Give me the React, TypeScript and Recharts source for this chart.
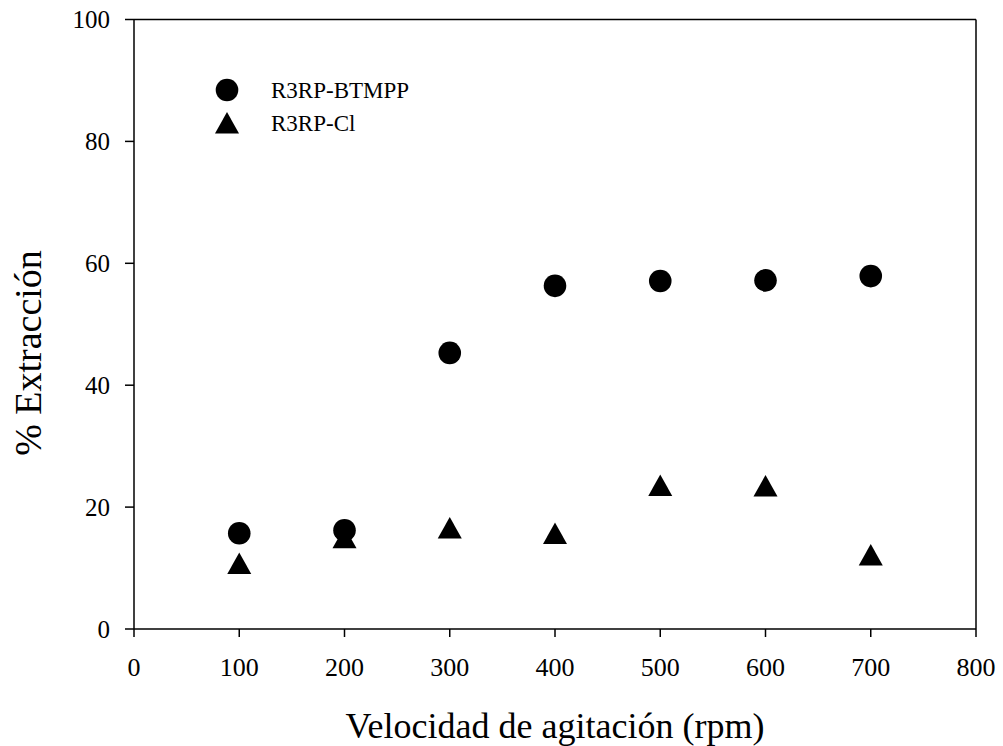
import React from 'react';
import {
  ScatterChart, Scatter, XAxis, YAxis, ReferenceLine,
} from 'recharts';

const rpm = [100, 200, 300, 400, 500, 600, 700];
const btmpp = [15.7, 16.2, 45.3, 56.3, 57.1, 57.2, 57.9];
const cl = [10.8, 15.0, 16.6, 15.7, 23.6, 23.5, 12.2];

const xTicks = [0, 100, 200, 300, 400, 500, 600, 700, 800];
const yTicks = [0, 20, 40, 60, 80, 100];

const seriesNames = ['R3RP-BTMPP', 'R3RP-Cl'];

const FONT = '"Liberation Serif", "Times New Roman", Times, serif';
const INK = '#000';

const btmppData = rpm.map((x, i) => ({ x, y: btmpp[i] }));
const clData = rpm.map((x, i) => ({ x, y: cl[i] }));

// filled disc
function Dot({ cx, cy }: { cx?: number; cy?: number }) {
  if (cx == null || cy == null) return null;
  return <circle cx={cx} cy={cy} r={11.3} fill={INK} />;
}

// filled triangle, bounding box centred on the point
function Tri({ cx, cy }: { cx?: number; cy?: number }) {
  if (cx == null || cy == null) return null;
  const w = 24, h = 21.5;
  const d = `M${cx},${cy - h / 2} L${cx + w / 2},${cy + h / 2} L${cx - w / 2},${cy + h / 2} Z`;
  return <path d={d} fill={INK} />;
}

// key sits inside the plot, top left
function LegendBox() {
  return (
    <svg width={260} height={70}
      style={{ position: 'absolute', left: 205, top: 72, display: 'block', fontFamily: FONT }}>
      <circle cx={22} cy={18} r={11.3} fill={INK} />
      <path d="M22,40 L34,61.5 L10,61.5 Z" fill={INK} />
      <text x={66} y={26} style={{ fontFamily: FONT, fontSize: 23 }} fill={INK}>{seriesNames[0]}</text>
      <text x={66} y={59} style={{ fontFamily: FONT, fontSize: 23 }} fill={INK}>{seriesNames[1]}</text>
    </svg>
  );
}

function YTitle(props: any) {
  const vb = props.viewBox || { x: 0 };
  const x = vb.x + 41;
  const y = 353;
  return (
    <text x={x} y={y} transform={`rotate(-90, ${x}, ${y})`} textAnchor="middle"
      style={{ fontFamily: FONT, fontSize: 38 }} fill={INK}>
      % Extracción
    </text>
  );
}

export default function App() {
  return (
    <div style={{ position: 'absolute', left: 0, top: 0, width: 1003, height: 746, background: '#fff', fontFamily: FONT }}>
      <ScatterChart
        width={1003}
        height={746}
        margin={{ top: 19.5, right: 27, bottom: 0, left: 0 }}
        style={{ fontFamily: FONT }}
      >
        <XAxis
          type="number"
          dataKey="x"
          domain={[0, 800]}
          ticks={xTicks}
          height={117}
          tickSize={8}
          tickMargin={21}
          tick={{ fontSize: 26, fill: INK, style: { fontFamily: FONT } }}
          axisLine={{ stroke: INK, strokeWidth: 1.5 }}
          tickLine={{ stroke: INK, strokeWidth: 1.5 }}
          label={{
            value: 'Velocidad de agitación (rpm)',
            position: 'insideBottom',
            offset: 8,
            style: { fontSize: 36, fill: INK, fontFamily: FONT },
          }}
        />
        <YAxis
          type="number"
          dataKey="y"
          domain={[0, 100]}
          ticks={yTicks}
          width={134}
          tickSize={9}
          tickMargin={15}
          tick={{ fontSize: 25, fill: INK, style: { fontFamily: FONT } }}
          axisLine={{ stroke: INK, strokeWidth: 1.5 }}
          tickLine={{ stroke: INK, strokeWidth: 1.5 }}
          label={{ value: '% Extracción', content: YTitle }}
        />
        {/* closing lines of the frame */}
        <ReferenceLine y={100} stroke={INK} strokeWidth={1.5} />
        <ReferenceLine x={800} stroke={INK} strokeWidth={1.5} />
        <Scatter name={seriesNames[0]} data={btmppData} shape={<Dot />} isAnimationActive={false} />
        <Scatter name={seriesNames[1]} data={clData} shape={<Tri />} isAnimationActive={false} />
      </ScatterChart>
      <LegendBox />
    </div>
  );
}
